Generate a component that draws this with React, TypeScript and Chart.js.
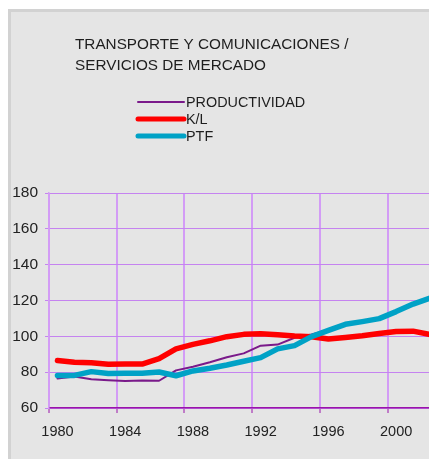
import React, { useEffect, useRef } from "react";
import { Chart, registerables } from "chart.js";

Chart.register(...registerables);

const titleLines = ["TRANSPORTE Y COMUNICACIONES /", "SERVICIOS DE MERCADO"];
const years = [
  "1980", "1981", "1982", "1983", "1984", "1985", "1986", "1987", "1988", "1989", "1990", "1991",
  "1992", "1993", "1994", "1995", "1996", "1997", "1998", "1999", "2000", "2001", "2002",
];
const productividad = [76.5, 77.6, 76, 75.5, 75.1, 75.4, 75.2, 81, 83, 85.5, 88.3, 90.5, 94.8, 95.4, 99.2, 101, 103.6, 106.5, 108.2, 110, 113.8, 118, 121];
const kl = [86.5, 85.5, 85.3, 84.4, 84.5, 84.5, 87.5, 93, 95.5, 97.5, 99.8, 101.1, 101.5, 100.9, 100.2, 99.8, 98.5, 99.3, 100.3, 101.6, 102.7, 102.9, 101];
const ptf = [78.1, 78.2, 80.3, 79.2, 79.4, 79.4, 80.1, 78, 80.7, 82.2, 84, 86.1, 88.1, 93, 94.8, 99.8, 103.3, 106.7, 108.2, 109.9, 113.8, 118, 121.3];
const seriesNames = ["PRODUCTIVIDAD", "K/L", "PTF"];
const seriesColors = ["#7a1a8a", "#ff0000", "#00a2c6"];
const seriesWidths = [2, 5.5, 5.5];

const FONT = '"Liberation Sans", Arial, Helvetica, sans-serif';

const overlayPlugin = {
  id: "overlay",
  afterDraw(chart: any) {
    const ctx = chart.ctx;
    ctx.save();
    ctx.fillStyle = "#1e1e1e";
    ctx.textBaseline = "middle";
    ctx.textAlign = "left";
    ctx.font = `15.3px ${FONT}`;
    ctx.fillText(titleLines[0], 75, 45);
    ctx.fillText(titleLines[1], 75, 66);
    ctx.font = `14.4px ${FONT}`;
    const rows = [102, 119, 136];
    seriesNames.forEach((name, i) => {
      ctx.beginPath();
      ctx.strokeStyle = seriesColors[i];
      ctx.lineWidth = seriesWidths[i] === 2 ? 2 : 5;
      ctx.lineCap = "round";
      ctx.moveTo(138, rows[i]);
      ctx.lineTo(184, rows[i]);
      ctx.stroke();
      ctx.fillStyle = "#1e1e1e";
      ctx.fillText(name, 186, rows[i] + 1);
    });
    ctx.restore();
  },
};

export default function App() {
  const ref = useRef<HTMLCanvasElement>(null);
  useEffect(() => {
    if (!ref.current) return;
    const data = [productividad, kl, ptf];
    const chart = new Chart(ref.current, {
      type: "line",
      data: {
        labels: years,
        datasets: seriesNames.map((name, i) => ({
          label: name,
          data: data[i],
          borderColor: seriesColors[i],
          backgroundColor: seriesColors[i],
          borderWidth: seriesWidths[i],
          pointRadius: 0,
          tension: 0,
          borderJoinStyle: "round" as const,
          borderCapStyle: "round" as const,
          order: 3 - i,
        })),
      },
      options: {
        responsive: false,
        animation: false,
        events: [],
        layout: { padding: { top: 193, left: 0, right: 0, bottom: 0 } },
        plugins: { legend: { display: false }, tooltip: { enabled: false }, title: { display: false } },
        scales: {
          x: {
            type: "category",
            offset: true,
            afterFit: (s: any) => { s.height = 51; },
            grid: {
              offset: true,
              lineWidth: 2,
              color: (c: any) => (c.index % 4 === 0 ? "#d39cf6" : "rgba(0,0,0,0)"),
              tickColor: (c: any) => (c.index % 4 === 0 ? "#9a14aa" : "rgba(0,0,0,0)"),
              tickLength: 5,
              tickWidth: 1,
            },
            border: { display: true, color: "#9a14aa", width: 1.5 },
            ticks: {
              autoSkip: false,
              maxRotation: 0,
              padding: 10,
              color: "#222",
              font: { family: FONT, size: 14.5 },
              callback: (_v: any, i: number) => (i % 4 === 0 ? years[i] : ""),
            },
          },
          y: {
            min: 60,
            max: 180,
            afterFit: (s: any) => { s.width = 49; },
            ticks: { stepSize: 20, padding: 7, color: "#222", font: { family: FONT, size: 15.5 } },
            grid: { color: "#c583f0", lineWidth: 1, tickLength: 4, tickColor: "#c583f0" },
            border: { display: true, color: "#d39cf6", width: 1.5 },
          },
        },
      },
      plugins: [overlayPlugin],
    });
    return () => chart.destroy();
  }, []);

  return (
    <div style={{ position: "fixed", left: 0, top: 0, width: 429, height: 459, overflow: "hidden", background: "#fff" }}>
      <div
        style={{
          position: "absolute", left: 8, top: 9, width: 470, height: 470,
          background: "#e5e5e5", borderTop: "3px solid #d2d2d2", borderLeft: "3px solid #d2d2d2",
        }}
      />
      <canvas ref={ref} width={440} height={459} style={{ position: "absolute", left: 0, top: 0, display: "block" }} />
    </div>
  );
}
